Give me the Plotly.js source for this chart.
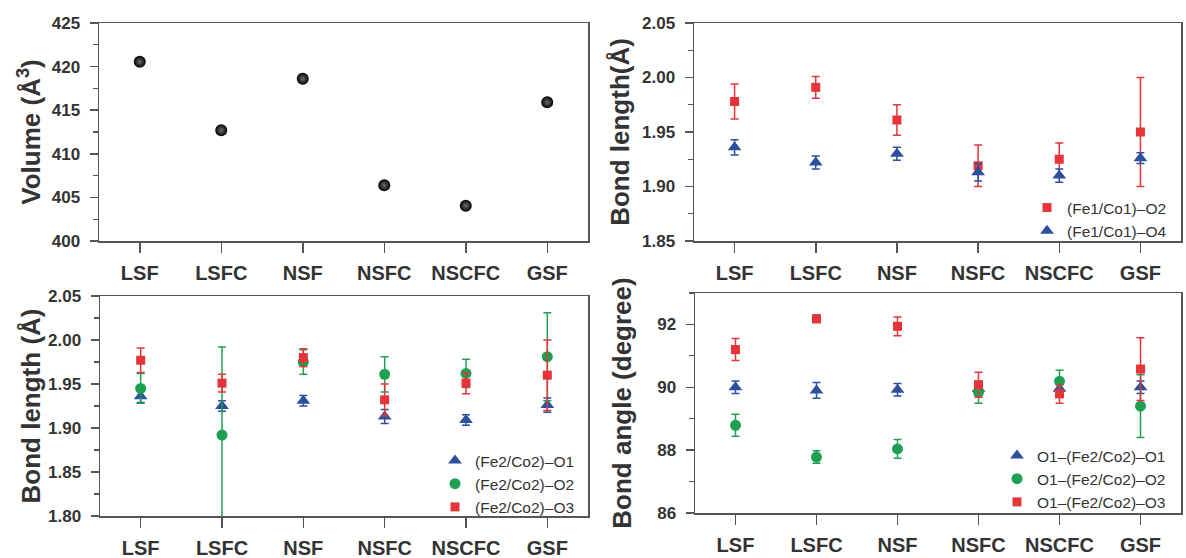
<!DOCTYPE html>
<html>
<head>
<meta charset="utf-8">
<script src="https://cdn.plot.ly/plotly-3.0.1.min.js"></script>
<style>html,body{margin:0;padding:0;background:#fff;}#chart{width:1186px;height:558px;}</style>
</head>
<body>
<div id="chart"></div>
<script>
// ---- data ----
var categories = ['LSF', 'LSFC', 'NSF', 'NSFC', 'NSCFC', 'GSF'];

var volume = [420.55, 412.7, 418.6, 406.4, 404.05, 415.9];

var fe1co1O2 = [1.978, 1.991, 1.961, 1.919, 1.925, 1.950];
var fe1co1O2Err = [0.016, 0.010, 0.014, 0.019, 0.015, 0.050];
var fe1co1O4 = [1.936, 1.922, 1.930, 1.913, 1.910, 1.926];
var fe1co1O4Err = [0.007, 0.006, 0.006, 0.008, 0.006, 0.005];

var fe2co2O1 = [1.936, 1.925, 1.931, 1.913, 1.909, 1.926];
var fe2co2O1Err = [0.007, 0.006, 0.006, 0.008, 0.006, 0.008];
var fe2co2O2 = [1.945, 1.892, 1.975, 1.961, 1.962, 1.981];
var fe2co2O2Err = [0.017, 0.100, 0.014, 0.020, 0.016, 0.050];
var fe2co2O3 = [1.977, 1.951, 1.980, 1.932, 1.951, 1.960];
var fe2co2O3Err = [0.014, 0.010, 0.010, 0.018, 0.012, 0.040];

var angleO1 = [90.0, 89.9, 89.92, 89.95, 89.95, 90.0];
var angleO1Err = [0.2, 0.25, 0.2, 0.2, 0.2, 0.2];
var angleO2 = [88.79, 87.78, 88.04, 89.84, 90.19, 89.4];
var angleO2Err = [0.35, 0.2, 0.3, 0.35, 0.35, 1.0];
var angleO3 = [91.2, 92.18, 91.94, 90.08, 89.79, 90.58];
var angleO3Err = [0.35, 0.12, 0.3, 0.4, 0.3, 1.0];

// ---- styles ----
var RED = '#e5343a', BLUE = '#2c4f9e', GREEN = '#1ea052';
var FONT = 'Liberation Sans, Arial, sans-serif';
var AXC = '#555';

function errs(arr, color) {
  return {type: 'data', array: arr, visible: true, color: color, thickness: 1.5, width: 4};
}
function tr(y, err, color, sym, size, name, xa, ya, leg) {
  return {
    type: 'scatter', mode: 'markers', x: categories, y: y, name: name,
    xaxis: xa, yaxis: ya, legend: leg, showlegend: true,
    marker: {color: color, symbol: sym, size: size},
    error_y: errs(err, color)
  };
}

var traces = [
  {type: 'scatter', mode: 'markers', x: categories, y: volume, name: 'Volume',
   xaxis: 'x', yaxis: 'y', showlegend: false,
   marker: {color: '#000', size: 12, gradient: {type: 'radial', color: '#6e6e6e'}}},
  tr(fe1co1O2, fe1co1O2Err, RED, 'square', 9, '(Fe1/Co1)\u2013O2', 'x2', 'y2', 'legend'),
  tr(fe1co1O4, fe1co1O4Err, BLUE, 'triangle-up', 12, '(Fe1/Co1)\u2013O4', 'x2', 'y2', 'legend'),
  tr(fe2co2O1, fe2co2O1Err, BLUE, 'triangle-up', 12, '(Fe2/Co2)\u2013O1', 'x3', 'y3', 'legend2'),
  tr(fe2co2O2, fe2co2O2Err, GREEN, 'circle', 11, '(Fe2/Co2)\u2013O2', 'x3', 'y3', 'legend2'),
  tr(fe2co2O3, fe2co2O3Err, RED, 'square', 9, '(Fe2/Co2)\u2013O3', 'x3', 'y3', 'legend2'),
  tr(angleO1, angleO1Err, BLUE, 'triangle-up', 12, 'O1\u2013(Fe2/Co2)\u2013O1', 'x4', 'y4', 'legend3'),
  tr(angleO2, angleO2Err, GREEN, 'circle', 11, 'O1\u2013(Fe2/Co2)\u2013O2', 'x4', 'y4', 'legend3'),
  tr(angleO3, angleO3Err, RED, 'square', 9, 'O1\u2013(Fe2/Co2)\u2013O3', 'x4', 'y4', 'legend3')
];

function xax(dom, anchor) {
  return {
    domain: dom, anchor: anchor, type: 'category', categoryorder: 'array', categoryarray: categories,
    range: [-0.5, 5.5], showgrid: false, zeroline: false,
    showline: true, mirror: true, linecolor: AXC, linewidth: 1.5,
    ticks: 'outside', ticklen: 10, tickwidth: 1.5, tickcolor: AXC,
    tickfont: {family: FONT, size: 20, color: '#333', weight: 'bold'},
    ticklabelstandoff: 3, automargin: false, fixedrange: true
  };
}
function yax(dom, anchor, range, dtick, mdtick, fmt, title, standoff) {
  return {
    domain: dom, anchor: anchor, range: range, tick0: range[0], dtick: dtick, tickformat: fmt,
    showgrid: false, zeroline: false,
    showline: true, mirror: true, linecolor: AXC, linewidth: 1.5,
    ticks: 'outside', ticklen: 8, tickwidth: 1.5, tickcolor: AXC,
    minor: {ticks: 'outside', ticklen: 5, tickwidth: 1.2, tickcolor: AXC, dtick: mdtick, tick0: range[0], showgrid: false},
    tickfont: {family: FONT, size: 17, color: '#333', weight: 'bold'},
    ticklabelstandoff: 6,
    title: {text: title, font: {family: FONT, size: 26, color: '#333', weight: 'bold'}, standoff: standoff},
    automargin: false, fixedrange: true
  };
}

var W = 1186, H = 558;
function xd(a, b) { return [a / W, b / W]; }
function yd(top, bottom) { return [1 - bottom / H, 1 - top / H]; }

var legFont = {family: FONT, size: 15.5, color: '#333'};
var layout = {
  width: W, height: H,
  margin: {l: 0, r: 0, t: 0, b: 0},
  paper_bgcolor: '#fff', plot_bgcolor: '#fff',
  showlegend: true,
  xaxis: xax(xd(99, 588), 'y'),
  yaxis: yax(yd(23, 241), 'x', [400, 425], 5, 2.5, 'd', 'Volume (\u00c5<sup>3</sup>)', 3),
  xaxis2: xax(xd(694, 1181), 'y2'),
  yaxis2: yax(yd(23, 241), 'x2', [1.85, 2.05], 0.05, 0.025, '.2f', 'Bond length(\u00c5)', 5),
  xaxis3: xax(xd(100, 588), 'y3'),
  yaxis3: yax(yd(296, 516), 'x3', [1.80, 2.05], 0.05, 0.025, '.2f', 'Bond length (\u00c5)', 0),
  xaxis4: xax(xd(695, 1181), 'y4'),
  yaxis4: yax(yd(293, 513), 'x4', [86, 93], 2, 1, 'd', 'Bond angle (degree)', 18),
  legend: {x: 1027 / W, y: 1 - 191 / H, xanchor: 'left', yanchor: 'top', bgcolor: 'rgba(0,0,0,0)',
           font: legFont, itemwidth: 30, tracegroupgap: 0},
  legend2: {x: 435 / W, y: 1 - 444 / H, xanchor: 'left', yanchor: 'top', bgcolor: 'rgba(0,0,0,0)',
            font: legFont, itemwidth: 30, tracegroupgap: 0},
  legend3: {x: 997 / W, y: 1 - 439 / H, xanchor: 'left', yanchor: 'top', bgcolor: 'rgba(0,0,0,0)',
            font: legFont, itemwidth: 30, tracegroupgap: 0}
};

Plotly.newPlot('chart', traces, layout, {displayModeBar: false, staticPlot: true});
</script>
</body>
</html>
